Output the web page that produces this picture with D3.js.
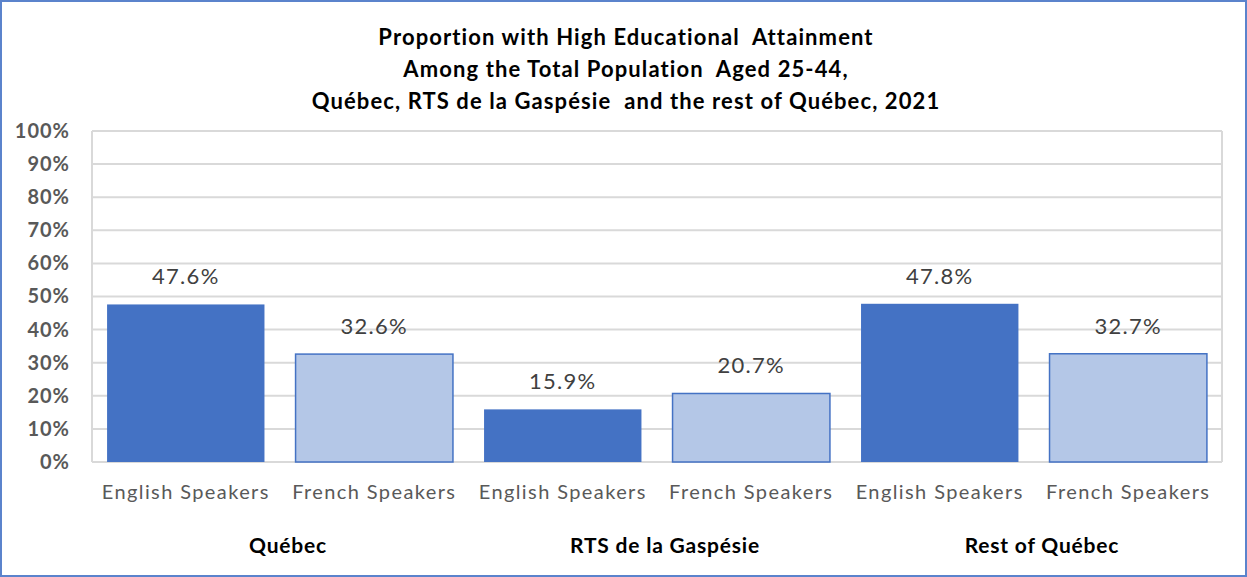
<!DOCTYPE html>
<html>
<head>
<meta charset="utf-8">
<script src="https://cdn.jsdelivr.net/npm/d3@7"></script>
<style>
  body { margin: 0; background: #fff; }
  svg { display: block; }
</style>
</head>
<body>
<svg id="chart" width="1247" height="577"></svg>
<script>
// data
var groups = ['Québec', 'RTS de la Gaspésie', 'Rest of Québec'];
var speakers = ['English Speakers', 'French Speakers'];
var values = [47.6, 32.6, 15.9, 20.7, 47.8, 32.7];
var yTicks = [0, 10, 20, 30, 40, 50, 60, 70, 80, 90, 100];
var titleLines = [
    'Proportion with High Educational  Attainment',
    'Among the Total Population  Aged 25-44,',
    'Québec, RTS de la Gaspésie  and the rest of Québec, 2021'
];

var svg = d3.select('#chart');
var width = 1247, height = 577;
var margin = {top: 131, right: 25, bottom: 115, left: 92};
var font = 'Lato, "Open Sans", sans-serif';

// outer frame
svg.append('rect')
    .attr('x', 1).attr('y', 1)
    .attr('width', width - 2).attr('height', height - 2)
    .attr('fill', '#fff')
    .attr('stroke', '#5b83cc')
    .attr('stroke-width', 2);

var bars = [];
groups.forEach(function (g, gi) {
    speakers.forEach(function (s, si) {
        bars.push({group: g, speaker: s, idx: si, value: values[gi * 2 + si], key: gi + '-' + si});
    });
});

var x = d3.scaleBand()
    .domain(bars.map(function (d) { return d.key; }))
    .range([margin.left, width - margin.right])
    .paddingInner(0.165)
    .paddingOuter(0.08);

var y = d3.scaleLinear()
    .domain([0, 100])
    .range([height - margin.bottom, margin.top]);

// gridlines
svg.append('g')
    .selectAll('line')
    .data(yTicks)
    .enter().append('line')
    .attr('x1', margin.left)
    .attr('x2', width - margin.right)
    .attr('y1', function (d) { return y(d); })
    .attr('y2', function (d) { return y(d); })
    .attr('stroke', '#d9d9d9')
    .attr('stroke-width', 2);

// plot frame sides
svg.append('line')
    .attr('x1', margin.left).attr('x2', margin.left)
    .attr('y1', y(100)).attr('y2', y(0))
    .attr('stroke', '#d9d9d9').attr('stroke-width', 2);
svg.append('line')
    .attr('x1', width - margin.right).attr('x2', width - margin.right)
    .attr('y1', y(100)).attr('y2', y(0))
    .attr('stroke', '#d9d9d9').attr('stroke-width', 2);

// y axis labels
var yAxis = d3.axisLeft(y)
    .tickValues(yTicks)
    .tickSize(0)
    .tickPadding(22)
    .tickFormat(function (d) { return d + '%'; });

var yg = svg.append('g')
    .attr('transform', 'translate(' + margin.left + ',0)')
    .call(yAxis);
yg.select('.domain').remove();
yg.selectAll('text')
    .attr('font-family', font)
    .attr('font-size', 20)
    .attr('font-weight', 'bold')
    .attr('letter-spacing', 1)
    .attr('fill', '#595959');

// bars
svg.append('g')
    .selectAll('rect')
    .data(bars)
    .enter().append('rect')
    .attr('x', function (d) { return x(d.key); })
    .attr('y', function (d) { return y(d.value); })
    .attr('width', x.bandwidth())
    .attr('height', function (d) { return y(0) - y(d.value); })
    .attr('fill', function (d) { return d.idx === 0 ? '#4472c4' : '#b4c7e7'; })
    .attr('stroke', '#4472c4')
    .attr('stroke-width', function (d) { return d.idx === 0 ? 0 : 1.5; });

// value labels
svg.append('g')
    .selectAll('text')
    .data(bars)
    .enter().append('text')
    .attr('x', function (d) { return x(d.key) + x.bandwidth() / 2; })
    .attr('y', function (d) { return y(d.value) - 20; })
    .attr('text-anchor', 'middle')
    .attr('font-family', font)
    .attr('font-size', 22)
    .attr('letter-spacing', 1.3)
    .attr('fill', '#404040')
    .text(function (d) { return d.value.toFixed(1) + '%'; });

// category labels
var xAxis = d3.axisBottom(x)
    .tickSize(0)
    .tickPadding(23)
    .tickFormat(function (k) { return speakers[+k.split('-')[1]]; });

var xg = svg.append('g')
    .attr('transform', 'translate(0,' + y(0) + ')')
    .call(xAxis);
xg.select('.domain').remove();
xg.selectAll('text')
    .attr('font-family', font)
    .attr('font-size', 20)
    .attr('letter-spacing', 1.4)
    .attr('fill', '#595959');

// group labels
svg.append('g')
    .selectAll('text')
    .data(groups)
    .enter().append('text')
    .attr('x', function (g, gi) {
        return (x(gi + '-0') + x(gi + '-1') + x.bandwidth()) / 2 + 8;
    })
    .attr('y', 553)
    .attr('text-anchor', 'middle')
    .attr('font-family', font)
    .attr('font-size', 21)
    .attr('font-weight', 'bold')
    .attr('letter-spacing', 0.8)
    .attr('fill', '#000')
    .text(function (g) { return g; });

// title
svg.append('g')
    .selectAll('text')
    .data(titleLines)
    .enter().append('text')
    .attr('x', 626)
    .attr('y', function (d, i) { return 45 + i * 32; })
    .attr('text-anchor', 'middle')
    .attr('font-family', font)
    .attr('font-size', 22)
    .attr('font-weight', 'bold')
    .attr('letter-spacing', 1.1)
    .attr('fill', '#000')
    .style('white-space', 'pre')
    .text(function (d) { return d; });
</script>
</body>
</html>
